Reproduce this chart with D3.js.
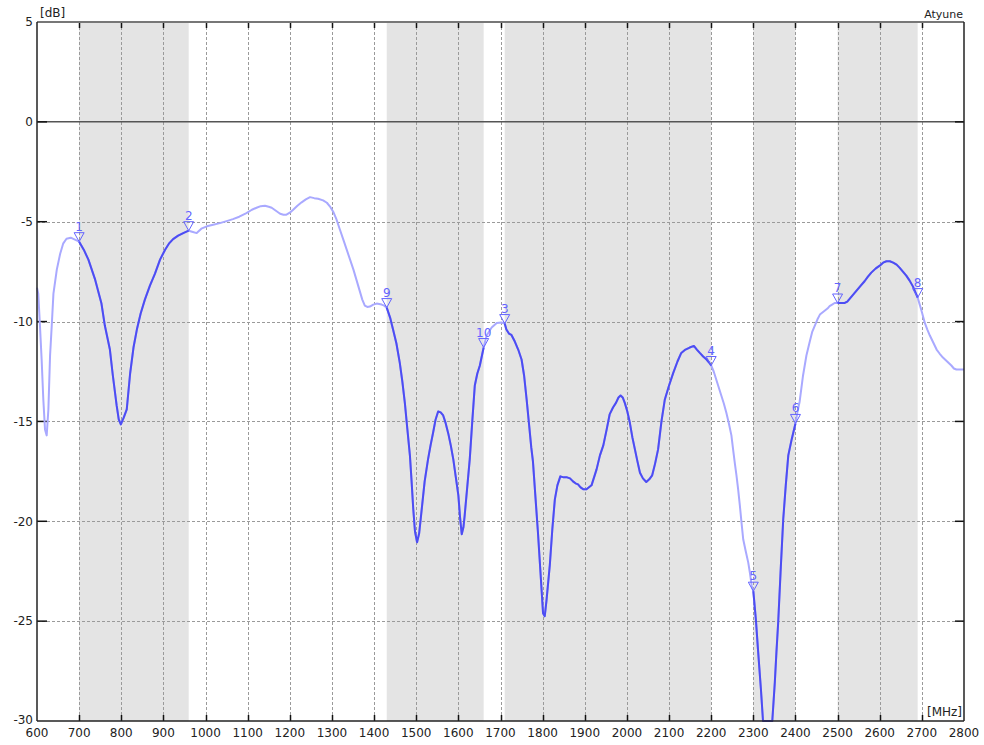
<!DOCTYPE html>
<html>
<head>
<meta charset="utf-8">
<script src="https://cdn.jsdelivr.net/npm/d3@7"></script>
<style>
  body { margin: 0; background: #fff; }
  text { font-family: "DejaVu Sans", Verdana, sans-serif; }
</style>
</head>
<body>
<script>
// frequency sweep (MHz) and measured level (dB)
const freqMHz = [
  600, 603, 607, 611, 615, 619, 623, 627, 631, 635, 639, 647, 655, 662, 670, 680, 690,
  700, 711, 722, 738, 753, 761, 767, 773, 780, 789, 794, 799, 806, 813, 821, 829, 837, 846,
  856, 868, 880, 892, 904, 913, 923, 935, 947, 960,
  968, 979, 990, 1003, 1018, 1034, 1050, 1065, 1080, 1097, 1110, 1121, 1131, 1141, 1150,
  1157, 1167, 1177, 1185, 1192, 1200, 1208, 1218, 1228, 1238, 1248, 1258, 1267, 1279, 1288,
  1295, 1303, 1311, 1319, 1327, 1335, 1343, 1351, 1358, 1365, 1372, 1378, 1384, 1390, 1398,
  1406, 1412, 1418, 1424,
  1430, 1438, 1445, 1453, 1461, 1467, 1473, 1479, 1485, 1489, 1493, 1497, 1502, 1507, 1513,
  1520, 1528, 1534, 1540, 1546, 1552, 1558, 1564, 1570, 1576, 1582, 1588, 1594, 1600, 1604,
  1608, 1612, 1615, 1621, 1627, 1633, 1639, 1645, 1651, 1660,
  1667, 1679, 1691, 1702,
  1710, 1714, 1720, 1726, 1734, 1742, 1750, 1756, 1762, 1768, 1773, 1777, 1783, 1789, 1795,
  1801, 1805, 1809, 1813, 1817, 1823, 1829, 1835, 1842, 1850, 1858, 1865, 1872, 1878, 1884,
  1890, 1897, 1904, 1910, 1916, 1922, 1928, 1936, 1944, 1952, 1959, 1967, 1974, 1980, 1985,
  1990, 1995, 2001, 2007, 2013, 2019, 2025, 2031, 2038, 2046, 2053, 2060, 2067, 2074, 2082,
  2090, 2100, 2110, 2120, 2129, 2139, 2149, 2159, 2166, 2173, 2181, 2189, 2195, 2200,
  2206, 2212, 2218, 2224, 2230, 2236, 2242, 2248, 2252, 2256, 2260, 2264, 2268, 2272, 2276,
  2282, 2288, 2292, 2296,
  2300, 2306, 2311, 2318, 2323, 2345, 2351, 2355, 2359, 2365, 2371, 2377, 2383, 2391, 2400,
  2405, 2410, 2418, 2426, 2434, 2440, 2446, 2452, 2458, 2464, 2470, 2476, 2481, 2487, 2493,
  2500, 2510, 2517, 2523, 2529, 2537, 2545, 2555, 2564, 2572, 2580, 2590, 2600, 2608, 2616,
  2624, 2632, 2640, 2647, 2655, 2663, 2671, 2679, 2685, 2690,
  2695, 2699, 2707, 2713, 2719, 2727, 2735, 2742, 2750, 2760, 2770, 2776, 2782, 2790, 2800
];
const levelDb = [
  -8.3, -8.6, -10.2, -11.9, -13.9, -15.4, -15.7, -14.4, -11.7, -10.2, -8.6, -7.4, -6.6, -6.1, -5.85, -5.8, -5.9,
  -6.0, -6.4, -6.9, -7.9, -9.1, -10.2, -10.8, -11.4, -12.7, -14.2, -14.9, -15.15, -14.8, -14.4, -12.6, -11.3, -10.4, -9.6,
  -8.9, -8.2, -7.6, -6.9, -6.4, -6.1, -5.87, -5.7, -5.57, -5.45,
  -5.5, -5.57, -5.35, -5.23, -5.15, -5.07, -4.97, -4.87, -4.75, -4.57, -4.4, -4.3, -4.22, -4.2, -4.25,
  -4.3, -4.45, -4.6, -4.65, -4.65, -4.55, -4.4, -4.2, -4.03, -3.88, -3.77, -3.82, -3.85, -3.93, -4.05,
  -4.23, -4.5, -4.9, -5.4, -5.9, -6.4, -6.9, -7.4, -7.9, -8.4, -8.9, -9.2, -9.27, -9.25, -9.15,
  -9.1, -9.12, -9.15, -9.2,
  -9.3, -9.8, -10.4, -11.1, -12.07, -13.0, -14.07, -15.4, -16.7, -18.0, -19.4, -20.5, -21.05, -20.6, -19.4,
  -18.0, -16.9, -16.2, -15.57, -14.9, -14.5, -14.55, -14.7, -15.1, -15.6, -16.2, -16.9, -17.8, -18.7, -19.8,
  -20.65, -20.3, -19.7, -18.3, -16.9, -15.0, -13.2, -12.6, -12.2, -11.3,
  -10.7, -10.3, -10.07, -10.05,
  -10.1, -10.4, -10.6, -10.67, -11.0, -11.4, -11.9, -12.7, -13.9, -15.2, -16.3, -17.0, -18.8, -20.6, -22.6,
  -24.6, -24.75, -24.0, -23.1, -22.2, -20.4, -18.9, -18.2, -17.75, -17.8, -17.8, -17.85, -18.0, -18.1, -18.15,
  -18.3, -18.4, -18.4, -18.3, -18.2, -17.8, -17.4, -16.7, -16.2, -15.4, -14.65, -14.3, -14.07, -13.8, -13.7,
  -13.8, -14.07, -14.5, -15.07, -15.8, -16.4, -17.0, -17.57, -17.85, -18.03, -17.9, -17.7, -17.1, -16.4, -15.0,
  -13.9, -13.2, -12.57, -12.0, -11.57, -11.4, -11.3, -11.22, -11.4, -11.57, -11.75, -11.9, -12.05, -12.2,
  -12.5, -12.9, -13.3, -13.7, -14.1, -14.57, -15.1, -15.7, -16.4, -17.07, -17.7, -18.4, -19.2, -20.07, -20.9,
  -21.5, -22.07, -22.6, -23.2,
  -23.5, -24.9, -26.4, -28.4, -30, -30, -28.07, -26.5, -25.07, -22.4, -19.9, -18.2, -16.7, -15.9, -15.1,
  -14.5, -14.0, -12.7, -11.7, -11.0, -10.5, -10.2, -9.9, -9.65, -9.55, -9.45, -9.35, -9.23, -9.15, -9.07,
  -9.07, -9.07, -9.07, -9.0, -8.85, -8.65, -8.45, -8.2, -7.98, -7.75, -7.55, -7.35, -7.2, -7.05, -6.98,
  -6.98, -7.05, -7.15, -7.3, -7.5, -7.7, -7.95, -8.25, -8.55, -8.8,
  -9.15, -9.45, -10.07, -10.4, -10.7, -11.05, -11.4, -11.6, -11.8, -12.0, -12.2, -12.35, -12.4, -12.4, -12.4
];

// shaded bands (MHz)
const bandStart = [700, 1430, 1710, 2300, 2500];
const bandEnd   = [960, 1660, 2200, 2400, 2690];

// markers
const markerLabel = ["1", "2", "9", "10", "3", "4", "5", "6", "7", "8"];
const markerFreq  = [700, 960, 1430, 1660, 1710, 2200, 2300, 2400, 2500, 2690];
const markerDb    = [-6.0, -5.45, -9.3, -11.3, -10.1, -12.2, -23.5, -15.1, -9.07, -8.8];

const xTicks = d3.range(600, 2801, 100);
const yTicks = [5, 0, -5, -10, -15, -20, -25, -30];

const width = 984, height = 745;
const plotLeft = 37, plotRight = 964, plotTop = 22, plotBottom = 721;

const x = d3.scaleLinear().domain([600, 2800]).range([plotLeft, plotRight]);
const y = d3.scaleLinear().domain([-30, 5]).range([plotBottom, plotTop]);

const svg = d3.select("body").append("svg")
    .attr("width", width)
    .attr("height", height);

// bands
svg.selectAll(".band")
  .data(bandStart.map((s, i) => [s, bandEnd[i]]))
  .enter().append("rect")
  .attr("x", d => x(d[0]))
  .attr("y", plotTop)
  .attr("width", d => x(d[1]) - x(d[0]))
  .attr("height", plotBottom - plotTop)
  .attr("fill", "#e4e4e4");

// grid
svg.selectAll(".vgrid")
  .data(xTicks.filter(d => d > 600 && d < 2800))
  .enter().append("line")
  .attr("x1", d => Math.round(x(d)) + 0.5).attr("x2", d => Math.round(x(d)) + 0.5)
  .attr("y1", plotTop).attr("y2", plotBottom)
  .attr("stroke", "#9a9a9a")
  .attr("stroke-dasharray", "3,2");

svg.selectAll(".hgrid")
  .data(yTicks.filter(d => d < 5 && d > -30 && d !== 0))
  .enter().append("line")
  .attr("x1", plotLeft).attr("x2", plotRight)
  .attr("y1", d => Math.round(y(d)) + 0.5).attr("y2", d => Math.round(y(d)) + 0.5)
  .attr("stroke", "#9a9a9a")
  .attr("stroke-dasharray", "3,2");

// zero line
svg.append("line")
  .attr("x1", plotLeft).attr("x2", plotRight)
  .attr("y1", y(0)).attr("y2", y(0))
  .attr("stroke", "#555")
  .attr("stroke-width", 1.5);

// ticks
const tickG = svg.append("g").attr("stroke", "#111").attr("stroke-width", 1.5);
xTicks.filter(d => d > 600 && d < 2800).forEach(d => {
  const px = Math.round(x(d)) + 0.5;
  tickG.append("line").attr("x1", px).attr("x2", px).attr("y1", plotTop).attr("y2", plotTop + 6);
  tickG.append("line").attr("x1", px).attr("x2", px).attr("y1", plotBottom - 6).attr("y2", plotBottom);
});
yTicks.filter(d => d < 5 && d > -30).forEach(d => {
  tickG.append("line").attr("x1", plotLeft).attr("x2", plotLeft + 10).attr("y1", y(d)).attr("y2", y(d));
  tickG.append("line").attr("x1", plotRight - 9).attr("x2", plotRight).attr("y1", y(d)).attr("y2", y(d));
});

// curve
const pts = freqMHz.map((f, i) => ({ f: f, v: levelDb[i] }));
const inBand = f => bandStart.some((s, i) => f >= s && f <= bandEnd[i]);

const line = d3.line().x(d => x(d.f)).y(d => y(Math.max(-30, d.v)));

svg.append("path")
  .datum(pts)
  .attr("d", line)
  .attr("fill", "none")
  .attr("stroke", "#a9a9ff")
  .attr("stroke-width", 2)
  .attr("stroke-linejoin", "round");

svg.append("path")
  .datum(pts)
  .attr("d", line.defined(d => inBand(d.f)))
  .attr("fill", "none")
  .attr("stroke", "#4d4df2")
  .attr("stroke-width", 2)
  .attr("stroke-linejoin", "round");

// markers
const mk = svg.selectAll(".marker")
  .data(markerFreq.map((f, i) => ({ f: f, v: markerDb[i], t: markerLabel[i] })))
  .enter().append("g")
  .attr("transform", d => `translate(${x(d.f)},${y(d.v)})`);

mk.append("path")
  .attr("d", "M0,0 L-5,-9 L5,-9 Z")
  .attr("fill", "none")
  .attr("stroke", "#6464ff")
  .attr("stroke-width", 1);

mk.append("text")
  .attr("y", -11)
  .attr("text-anchor", "middle")
  .attr("font-size", 12)
  .attr("fill", "#6464ff")
  .text(d => d.t);

// frame
svg.append("line").attr("x1", plotLeft).attr("x2", plotRight).attr("y1", plotTop).attr("y2", plotTop)
  .attr("stroke", "#777").attr("stroke-width", 2);
svg.append("line").attr("x1", plotLeft).attr("x2", plotRight).attr("y1", plotBottom).attr("y2", plotBottom)
  .attr("stroke", "#222").attr("stroke-width", 1.5);
svg.append("line").attr("x1", plotLeft).attr("x2", plotLeft).attr("y1", plotTop).attr("y2", plotBottom)
  .attr("stroke", "#222").attr("stroke-width", 1.5);
svg.append("line").attr("x1", plotRight).attr("x2", plotRight).attr("y1", plotTop).attr("y2", plotBottom)
  .attr("stroke", "#222").attr("stroke-width", 1.5);

// axis labels
svg.selectAll(".xl")
  .data(xTicks)
  .enter().append("text")
  .attr("x", d => x(d))
  .attr("y", 737)
  .attr("text-anchor", "middle")
  .attr("font-size", 12)
  .attr("fill", "#222")
  .text(d => d);

svg.selectAll(".yl")
  .data(yTicks)
  .enter().append("text")
  .attr("x", 33)
  .attr("y", d => d === -30 ? y(d) - 1 : y(d))
  .attr("dy", "0.36em")
  .attr("text-anchor", "end")
  .attr("font-size", 12)
  .attr("fill", "#222")
  .text(d => d);

svg.append("text").attr("x", 40).attr("y", 17).attr("font-size", 12).attr("fill", "#222").text("[dB]");
svg.append("text").attr("x", 963).attr("y", 18).attr("text-anchor", "end").attr("font-size", 11).attr("fill", "#222").text("Atyune");
svg.append("text").attr("x", 962).attr("y", 716).attr("text-anchor", "end").attr("font-size", 12).attr("fill", "#222").text("[MHz]");
</script>
</body>
</html>
